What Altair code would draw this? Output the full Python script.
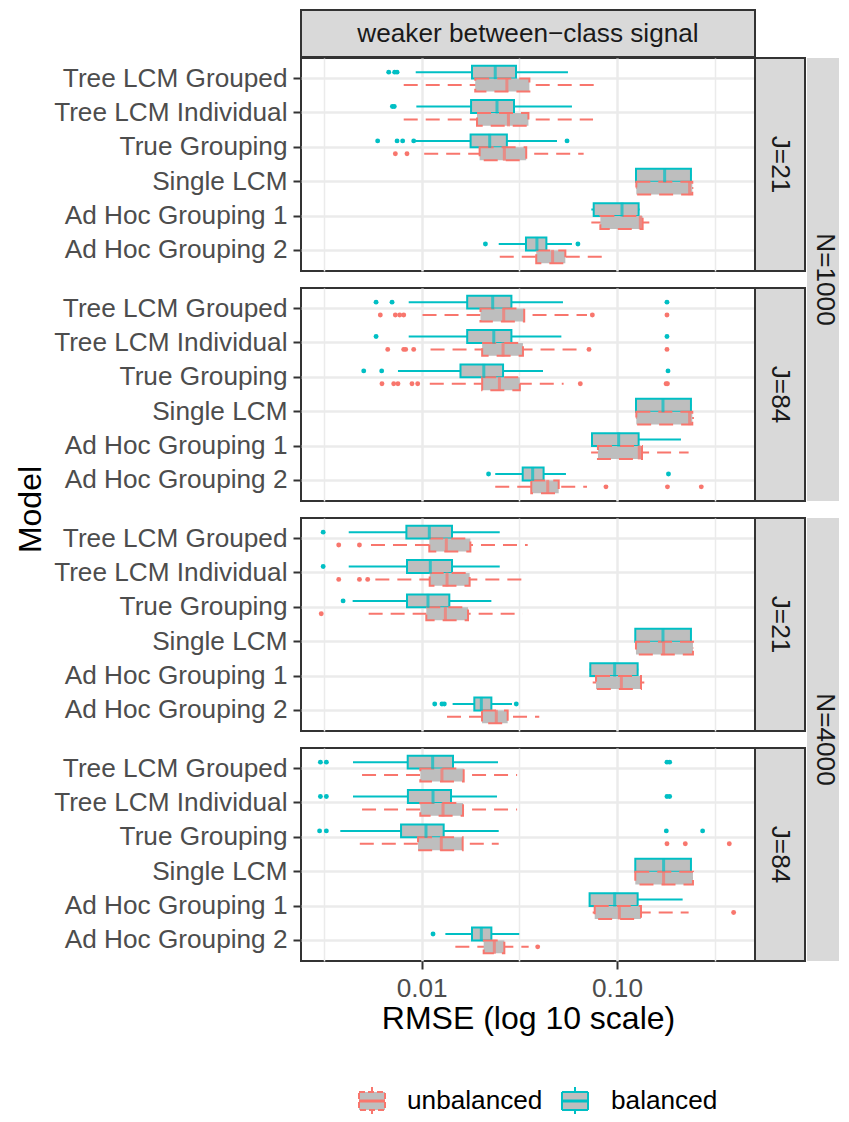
import altair as alt
import pandas as pd

MODELS = ["Tree LCM Grouped", "Tree LCM Individual", "True Grouping",
          "Single LCM", "Ad Hoc Grouping 1", "Ad Hoc Grouping 2"]
GROUPS = ["balanced", "unbalanced"]
LEGEND_ORDER = ["unbalanced", "balanced"]
PANEL_N = ["N=1000", "N=1000", "N=4000", "N=4000"]
PANEL_J = ["J=21", "J=84", "J=21", "J=84"]
HEADER = "weaker between\u2212class signal"

# box statistics, rows: panel -> model -> (balanced, unbalanced)
LO = [
    0.00932, 0.00809, 0.00939, 0.00809, 0.00928, 0.0103, 0.1245, 0.1250, 0.0739, 0.0739, 0.0248, 0.0251,
    0.00858, 0.0101, 0.00858, 0.0111, 0.00756, 0.0110, 0.1245, 0.1250, 0.0737, 0.0737, 0.0238, 0.0238,
    0.00423, 0.0055, 0.00423, 0.00579, 0.00443, 0.00535, 0.1236, 0.1245, 0.0725, 0.0751, 0.0144, 0.01348,
    0.00445, 0.00495, 0.00445, 0.00495, 0.00383, 0.00482, 0.1236, 0.1236, 0.0724, 0.0751, 0.01322, 0.01487,
]
Q1 = [
    0.0181, 0.0188, 0.0179, 0.0192, 0.0178, 0.0198, 0.1251, 0.1256, 0.0760, 0.0822, 0.0342, 0.0386,
    0.0171, 0.0200, 0.0171, 0.0204, 0.0158, 0.0204, 0.1251, 0.1256, 0.0745, 0.0799, 0.0329, 0.0364,
    0.00835, 0.01094, 0.00841, 0.01099, 0.00841, 0.01056, 0.1241, 0.1251, 0.0730, 0.0781, 0.0186, 0.02037,
    0.00848, 0.00984, 0.0085, 0.00984, 0.00784, 0.00958, 0.1241, 0.1241, 0.0724, 0.0769, 0.0181, 0.02077,
]
MED = [
    0.0238, 0.0273, 0.0243, 0.0278, 0.0223, 0.0265, 0.1754, 0.2355, 0.1061, 0.1317, 0.0389, 0.0468,
    0.0231, 0.0263, 0.0234, 0.0261, 0.0208, 0.0250, 0.1720, 0.2355, 0.1020, 0.1301, 0.0370, 0.0442,
    0.01094, 0.01337, 0.01107, 0.01348, 0.01077, 0.01322, 0.1720, 0.1733, 0.0973, 0.1053, 0.0202, 0.0241,
    0.01138, 0.0127, 0.01143, 0.01286, 0.01052, 0.0126, 0.1733, 0.1733, 0.0973, 0.1028, 0.0202, 0.02355,
]
Q3 = [
    0.0304, 0.0356, 0.0297, 0.0352, 0.0273, 0.0343, 0.2392, 0.2430, 0.1291, 0.1353, 0.0435, 0.0544,
    0.0288, 0.0335, 0.0288, 0.0330, 0.0261, 0.0318, 0.2392, 0.2430, 0.1291, 0.1343, 0.0421, 0.0503,
    0.0143, 0.01775, 0.0143, 0.0176, 0.01385, 0.01727, 0.2392, 0.2449, 0.1276, 0.1327, 0.02274, 0.02756,
    0.01447, 0.01641, 0.01413, 0.01628, 0.01296, 0.01621, 0.2392, 0.2449, 0.1276, 0.1327, 0.02274, 0.0265,
]
HI = [
    0.0561, 0.0766, 0.0588, 0.0754, 0.0493, 0.0675, 0.2405, 0.2460, 0.1306, 0.1464, 0.0588, 0.0838,
    0.0529, 0.0702, 0.0519, 0.0675, 0.0418, 0.0533, 0.2405, 0.2480, 0.2126, 0.2327, 0.0548, 0.0702,
    0.0251, 0.0349, 0.0251, 0.0346, 0.02274, 0.0329, 0.2400, 0.2460, 0.1285, 0.1380, 0.0290, 0.0400,
    0.0246, 0.0308, 0.0243, 0.0308, 0.0248, 0.0248, 0.2400, 0.2460, 0.2169, 0.2327, 0.0316, 0.0353,
]

# outliers per panel: model index, group (b = balanced, u = unbalanced), value
OUT_MODEL = [
    [0, 0, 0, 1, 1, 2, 2, 2, 2, 2, 2, 2, 5, 5],
    [0, 0, 0, 0, 0, 0, 0, 0, 0, 1, 1, 1, 1, 1, 1, 1, 1,
     2, 2, 2, 2, 2, 2, 2, 2, 2, 2, 2, 5, 5, 5, 5, 5],
    [0, 0, 0, 1, 1, 1, 1, 2, 2, 5, 5, 5, 5],
    [0, 0, 0, 0, 1, 1, 1, 1, 2, 2, 2, 2, 2, 2, 2, 4, 5, 5],
]
OUT_GROUP = [
    ["b", "b", "b", "b", "b", "b", "b", "b", "b", "b", "u", "u", "b", "b"],
    ["b", "b", "b", "u", "u", "u", "u", "u", "u", "b", "b", "u", "u", "u", "u", "u", "u",
     "b", "b", "b", "u", "u", "u", "u", "u", "u", "u", "u", "b", "b", "u", "u", "u"],
    ["b", "u", "u", "b", "u", "u", "u", "b", "u", "b", "b", "b", "b"],
    ["b", "b", "b", "b", "b", "b", "b", "b", "b", "b", "b", "b", "u", "u", "u", "u", "b", "u"],
]
OUT_VALUE = [
    [0.00678, 0.00727, 0.00748, 0.00708, 0.00724, 0.00595, 0.00748, 0.00799, 0.0091, 0.0555,
     0.00733, 0.00841, 0.0212, 0.0631],
    [0.00584, 0.00705, 0.1803, 0.00614, 0.00733, 0.00772, 0.00809, 0.0748, 0.1803,
     0.00584, 0.1803, 0.0067, 0.00809, 0.00828, 0.0091, 0.0719, 0.1803,
     0.00505, 0.00624, 0.1825, 0.00626, 0.00719, 0.00756, 0.00892, 0.00954, 0.0649, 0.1784, 0.1813,
     0.0220, 0.1835, 0.0878, 0.1813, 0.2702],
    [0.00313, 0.00376, 0.0048, 0.00313, 0.00376, 0.0048, 0.00529, 0.00396, 0.00306,
     0.01166, 0.0127, 0.01306, 0.0305],
    [0.00303, 0.00325, 0.1803, 0.1861, 0.00303, 0.00325, 0.1803, 0.1861,
     0.00300, 0.00325, 0.1789, 0.2745, 0.1803, 0.2238, 0.3759, 0.3956, 0.01143, 0.03926],
]

GRID_VALUES = [0.0031623, 0.01, 0.031623, 0.1, 0.31623]

W, H, GAP = 454, 213, 17
FONT = "Liberation Sans"
TEAL, SALMON = "#00BFC4", "#F8766D"
BOX_FILL = "#BEBEBE"
STRIP_FILL, DARK = "#D9D9D9", "#333333"
FS_SMALL, FS_BIG = 26.2, 32
DASH = [14, 8]

rows = []
i = 0
for p in range(4):
    for m in MODELS:
        for g in GROUPS:
            rows.append(dict(panel=p, model=m, group=g, lo=LO[i], q1=Q1[i],
                             med=MED[i], q3=Q3[i], hi=HI[i]))
            i += 1
box_df = pd.DataFrame(rows)

orows = []
for p in range(4):
    for m, g, v in zip(OUT_MODEL[p], OUT_GROUP[p], OUT_VALUE[p]):
        orows.append(dict(panel=p, model=MODELS[m],
                          group="balanced" if g == "b" else "unbalanced", value=v))
out_df = pd.DataFrame(orows)

xscale = alt.Scale(type="log", domain=[0.00241, 0.509], nice=False)
yscale = alt.Scale(domain=MODELS, paddingInner=0, paddingOuter=0.1)
yoff_scale = alt.Scale(domain=GROUPS, paddingInner=0, paddingOuter=1 / 3)
color_scale = alt.Scale(domain=LEGEND_ORDER, range=[SALMON, TEAL])
dash_scale = alt.Scale(domain=LEGEND_ORDER, range=[DASH, [1, 0]])

MAJOR = "datum.value == 0.01 || datum.value == 0.1"


def make_xaxis(bottom):
    common = dict(values=GRID_VALUES, grid=True, gridColor="#EBEBEB",
                  gridWidth={"condition": {"test": MAJOR, "value": 2.5}, "value": 1.5},
                  domain=False)
    if bottom:
        return alt.Axis(labels=True, ticks=True, tickSize=8, tickWidth=2, tickColor=DARK,
                        tickOpacity={"condition": {"test": MAJOR, "value": 1}, "value": 0},
                        labelExpr="datum.value == 0.01 ? '0.01' : (datum.value == 0.1 ? '0.10' : '')",
                        labelFontSize=FS_SMALL, labelColor="#4D4D4D", labelPadding=6,
                        labelFont=FONT, title="RMSE (log 10 scale)", titleFontSize=FS_BIG,
                        titleFontWeight="normal", titleColor="#000000", titleFont=FONT,
                        titlePadding=2, **common)
    return alt.Axis(labels=False, ticks=False, title=None, **common)


yaxis = alt.Axis(title=None, labelFontSize=FS_SMALL, labelColor="#4D4D4D", labelFont=FONT,
                 labelLimit=500, labelPadding=6, tickSize=8, tickWidth=2, tickColor=DARK,
                 domain=False, grid=True, gridColor="#EBEBEB", gridWidth=2.5)


def one(label):
    return pd.DataFrame({"label": [label]})


def legend_layers():
    # legend keys drawn below the bottom panel (positions relative to its plot area)
    out = []
    keys = [("unbalanced", SALMON, DASH, 58, 106), ("balanced", TEAL, [1, 0], 261, 310)]
    top, bot, mid = 344, 362, 353
    for label, c, dash, x0, tx in keys:
        d = one(label)
        xc = x0 + 13
        out.append(alt.Chart(d).mark_rule(stroke=c, strokeWidth=2).encode(
            x=alt.value(xc), y=alt.value(top - 5), y2=alt.value(bot + 4)))
        out.append(alt.Chart(d).mark_rect(fill=BOX_FILL, stroke=c, strokeWidth=2, strokeDash=[6, 3] if dash != [1, 0] else [1, 0]).encode(
            x=alt.value(x0), x2=alt.value(x0 + 26), y=alt.value(top), y2=alt.value(bot)))
        out.append(alt.Chart(d).mark_rule(stroke=c, strokeWidth=3).encode(
            x=alt.value(x0), x2=alt.value(x0 + 26), y=alt.value(mid)))
        out.append(alt.Chart(d).mark_text(fontSize=FS_SMALL, font=FONT, color="#000000",
                                          align="left", baseline="middle").encode(
            x=alt.value(tx), y=alt.value(mid), text="label:N"))
    return out


def panel(p):
    bottom = p == 3
    bd = box_df[box_df.panel == p]
    od = out_df[out_df.panel == p]
    xaxis = make_xaxis(bottom)

    def X(field):
        return alt.X(field, type="quantitative", scale=xscale, axis=xaxis)

    y = alt.Y("model:N", scale=yscale, sort=MODELS, axis=yaxis)
    yo = alt.YOffset("group:N", scale=yoff_scale, sort=GROUPS)
    col = alt.Color("group:N", scale=color_scale, legend=None)
    dash = alt.StrokeDash("group:N", scale=dash_scale, legend=None)

    whisk = alt.Chart(bd).mark_rule(strokeWidth=2).encode(
        x=X("lo"), x2="hi:Q", y=y, yOffset=yo, color=col, strokeDash=dash)
    box = alt.Chart(bd).mark_bar(fill=BOX_FILL, strokeWidth=2).encode(
        x=X("q1"), x2="q3:Q", y=y, yOffset=yo,
        stroke=alt.Stroke("group:N", scale=color_scale, legend=None), strokeDash=dash)
    med = alt.Chart(bd).mark_tick(thickness=3, size=14).encode(
        x=X("med"), y=y, yOffset=yo, color=col)
    pts = alt.Chart(od).mark_circle(size=24, opacity=1).encode(
        x=X("value"), y=y, yOffset=yo, color=col)

    layers = [whisk, box, med, pts]

    jdf = one(PANEL_J[p])
    layers.append(alt.Chart(jdf).mark_rect(fill=STRIP_FILL, stroke=DARK, strokeWidth=2).encode(
        x=alt.value(W), x2=alt.value(W + 50), y=alt.value(0), y2=alt.value(H)))
    layers.append(alt.Chart(jdf).mark_text(angle=90, fontSize=FS_SMALL, font=FONT, color="#1A1A1A",
                                           align="center", baseline="middle").encode(
        x=alt.value(W + 25), y=alt.value(H / 2), text="label:N"))

    if p in (0, 2):
        ndf = one(PANEL_N[p])
        layers.append(alt.Chart(ndf).mark_rect(fill=STRIP_FILL).encode(
            x=alt.value(W + 52), x2=alt.value(W + 84), y=alt.value(0), y2=alt.value(2 * H + GAP)))
        layers.append(alt.Chart(ndf).mark_text(angle=90, fontSize=FS_SMALL, font=FONT, color="#1A1A1A",
                                               align="center", baseline="middle").encode(
            x=alt.value(W + 70), y=alt.value(H + GAP / 2), text="label:N"))
    if p == 0:
        hdf = one(HEADER)
        layers.append(alt.Chart(hdf).mark_rect(fill=STRIP_FILL, stroke=DARK, strokeWidth=2).encode(
            x=alt.value(0), x2=alt.value(W), y=alt.value(-48), y2=alt.value(-1)))
        layers.append(alt.Chart(hdf).mark_text(fontSize=FS_SMALL, font=FONT, color="#1A1A1A",
                                               align="center", baseline="middle").encode(
            x=alt.value(W / 2), y=alt.value(-24), text="label:N"))
    if p == 1:
        mdf = one("Model")
        layers.append(alt.Chart(mdf).mark_text(angle=270, fontSize=FS_BIG, font=FONT, color="#000000",
                                               align="center", baseline="middle").encode(
            x=alt.value(-270), y=alt.value(H + GAP / 2), text="label:N"))
    if bottom:
        layers.extend(legend_layers())

    return alt.layer(*layers).properties(width=W, height=H)


chart = alt.vconcat(*[panel(p) for p in range(4)], spacing=GAP, bounds="flush").properties(
    padding={"left": 6, "top": 0, "right": 0, "bottom": 0},
    background="white",
).configure_view(stroke=DARK, strokeWidth=2, fill="white")

chart.save("out.html", embed_options={"renderer": "svg", "actions": False})
